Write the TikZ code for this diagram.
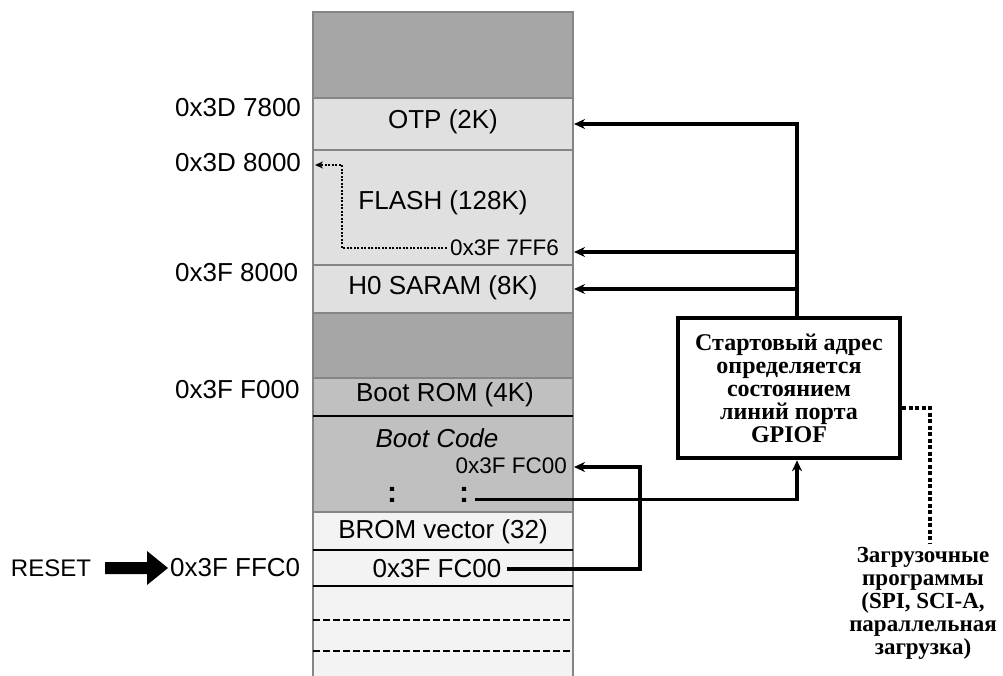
\documentclass[tikz,border=0pt]{standalone}
\usepackage{fontspec}
\setmainfont{Liberation Sans}
\newfontfamily\rusfont{Liberation Serif}
\usetikzlibrary{arrows.meta}
\definecolor{dgray}{HTML}{A6A6A6}
\definecolor{lgray}{HTML}{E0E0E0}
\definecolor{mgray}{HTML}{C0C0C0}
\definecolor{wgray}{HTML}{F3F3F3}
\definecolor{edge}{HTML}{858585}
\begin{document}
\begin{tikzpicture}[x=1pt,y=-1pt,
  cellbox/.style={draw=edge, line width=1.4},
  addr/.style={font=\fontsize{26}{30}\selectfont, anchor=west, inner sep=0pt},
  small/.style={font=\fontsize{22.5}{26}\selectfont, inner sep=0pt},
  lbl/.style={font=\fontsize{26}{30}\selectfont, inner sep=0pt},
  rus/.style={font=\rusfont\bfseries\fontsize{24}{23}\selectfont, align=center, inner sep=0pt},
  arr/.style={line width=3.3, -{Stealth[length=11pt,width=10pt]}},
  fdot/.style={line width=1.8, dash pattern=on 2pt off 1.5pt, -{Stealth[length=8pt,width=7pt]}},
  gdot/.style={line width=3.8, dash pattern=on 4pt off 2.5pt},
  colon/.style={font=\fontsize{30}{34}\selectfont\bfseries, inner sep=0pt}
]
\useasboundingbox (0,0) rectangle (1003,675);
% memory column cells
\path[cellbox, fill=dgray] (313,12) rectangle (573,98);
\path[cellbox, fill=lgray] (313,98) rectangle (573,150);
\path[cellbox, fill=lgray] (313,150) rectangle (573,265);
\path[cellbox, fill=lgray] (313,265) rectangle (573,313);
\path[cellbox, fill=dgray] (313,313) rectangle (573,378);
\path[cellbox, fill=mgray] (313,378) rectangle (573,416);
\path[cellbox, fill=mgray] (313,416) rectangle (573,512);
\path[cellbox, fill=wgray] (313,512) rectangle (573,550);
\path[cellbox, fill=wgray] (313,550) rectangle (573,586);
\path[fill=wgray] (313,586) rectangle (573,676);
\draw[edge, line width=1.4] (313,586) -- (313,676) (573,586) -- (573,676);
% black separators
\draw[line width=1.6] (313,416) -- (573,416);
\draw[line width=1.6] (313,550) -- (573,550);
\draw[line width=1.6] (313,586) -- (573,586);
\draw[line width=2.6, dash pattern=on 7pt off 3pt] (313,620) -- (573,620);
\draw[line width=2.6, dash pattern=on 7pt off 3pt] (313,651) -- (573,651);

% cell labels
\node[lbl] (otp) at (443,122) {OTP (2K)};
\node[lbl] (flash) at (443,203) {FLASH (128K)};
\node[lbl] (h0) at (443,288) {H0 SARAM (8K)};
\node[lbl] (brom) at (445,395) {Boot ROM (4K)};
\node[lbl, font=\fontsize{26}{30}\selectfont\itshape] (bcode) at (437,438) {Boot Code};
\node[lbl] (bvec) at (443,532) {BROM vector (32)};
\node[lbl] (vaddr) at (437,569) {0x3F FC00};
\node[small, anchor=east] (f6) at (559,248) {0x3F 7FF6};
\node[small, anchor=east] (bcaddr) at (567,466) {0x3F FC00};
\node[colon] (d1) at (392,495) {:};
\node[colon] (d2) at (464,495) {:};

% left address labels
\node[addr] (a1) at (175,108) {0x3D 7800};
\node[addr] (a2) at (175,163) {0x3D 8000};
\node[addr] (a3) at (175,273) {0x3F 8000};
\node[addr] (a4) at (175,390) {0x3F F000};
\node[addr] (a5) at (170,568) {0x3F FFC0};
\node[addr, font=\fontsize{24}{28}\selectfont, anchor=center] (reset) at (51,568) {RESET};
\fill (105,562) -- (147,562) -- (147,551) -- (168,568) -- (147,585) -- (147,574) -- (105,574) -- cycle;

% text boxes
\node[rus, draw, line width=4.5, minimum width=222, minimum height=140] (box) at (789,388)
  {Стартовый адрес\\определяется\\состоянием\\линий порта\\GPIOF};
\node[rus, font=\rusfont\bfseries\fontsize{23}{23}\selectfont] (loaders) at (923,603)
  {Загрузочные\\программы\\(SPI, SCI-A,\\параллельная\\загрузка)};

% coordinates
\coordinate (bus) at (797,0);
\coordinate (otpin) at (574,124);
\coordinate (f6in) at (574,252);
\coordinate (h0in) at (574,289);
\coordinate (bcin) at (574,467);
\coordinate (lp) at (640,467);
\coordinate (dl) at (902,408);
\coordinate (fc) at (342,165);
\coordinate (ftip) at (315,165);

% connectors
\draw[arr] (box.north -| bus) -- (otpin -| bus) -- (otpin);
\draw[arr] (f6in -| bus) -- (f6in);
\draw[arr] (h0in -| bus) -- (h0in);
\draw[arr] ([xshift=6pt,yshift=3pt]d2.south east) -| (box.south -| bus);
\draw[arr] ([xshift=5pt]vaddr.east) -| (lp) -- (bcin);
\draw[fdot] ([xshift=-3pt]f6.west) -| (fc) -- (ftip);
\draw[gdot] (dl) -| ([xshift=7pt,yshift=4pt]loaders.north);
\end{tikzpicture}
\end{document}
